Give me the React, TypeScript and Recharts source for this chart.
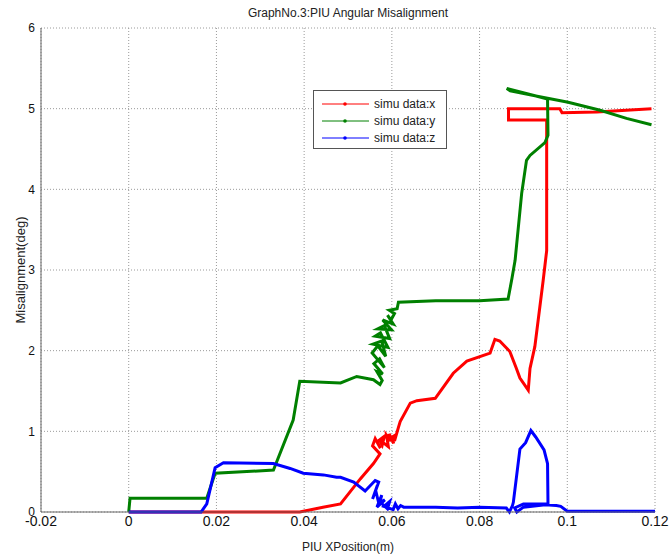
import { LineChart, Line, XAxis, YAxis, CartesianGrid } from 'recharts';

// [xPosition (m), misalignment (deg)], in drawing order
const simuX: [number, number][] = [
  [0, 0], [0.039, 0], [0.0443, 0.06], [0.0483, 0.1], [0.0528, 0.41], [0.0558, 0.6], [0.0573, 0.72],
  [0.0556, 0.82], [0.0562, 0.91], [0.0574, 0.79], [0.0566, 0.87], [0.0583, 0.94], [0.0578, 0.83],
  [0.0571, 0.9], [0.0592, 0.81], [0.0588, 0.95], [0.0598, 0.88], [0.0594, 0.97], [0.0604, 0.85],
  [0.0601, 0.93], [0.061, 0.96], [0.0606, 0.88], [0.0615, 1.05], [0.0619, 1.12],
  [0.0642, 1.35], [0.0657, 1.38], [0.0699, 1.41], [0.074, 1.72], [0.0771, 1.87], [0.0824, 1.97],
  [0.0835, 2.14], [0.0846, 2.12], [0.0869, 1.99], [0.0884, 1.78], [0.0892, 1.66], [0.0911, 1.51],
  [0.0915, 1.78], [0.0926, 2.05], [0.0945, 2.87], [0.0953, 3.24], [0.0953, 4.86], [0.0866, 4.86],
  [0.0866, 5.0], [0.0983, 5.0], [0.0988, 4.95], [0.1067, 4.96], [0.1192, 5.0],
];

const simuY: [number, number][] = [
  [0, 0], [0.0003, 0.17], [0.0178, 0.17], [0.0197, 0.48], [0.033, 0.52], [0.0375, 1.14], [0.039, 1.62],
  [0.0483, 1.6], [0.052, 1.68], [0.0558, 1.64], [0.0573, 1.58], [0.0578, 1.63], [0.0566, 1.74],
  [0.0579, 1.71], [0.0559, 1.84], [0.0572, 1.9], [0.0583, 1.79], [0.0555, 1.97], [0.0568, 2.06],
  [0.0586, 1.93], [0.0577, 2.12], [0.0557, 2.08], [0.0591, 2.04], [0.0574, 2.22], [0.0562, 2.18],
  [0.0595, 2.15], [0.0583, 2.31], [0.0568, 2.27], [0.0599, 2.26], [0.0579, 2.38], [0.0603, 2.33],
  [0.059, 2.44], [0.0598, 2.38], [0.0606, 2.46], [0.0594, 2.5], [0.0612, 2.52], [0.0615, 2.6],
  [0.07, 2.62], [0.08, 2.62], [0.0865, 2.64], [0.0874, 2.9], [0.0881, 3.12], [0.0896, 3.95],
  [0.0907, 4.36], [0.0915, 4.42], [0.0949, 4.58], [0.0956, 4.67], [0.0955, 5.12], [0.0862, 5.25],
  [0.087, 5.22], [0.0955, 5.13], [0.1002, 5.08], [0.1075, 4.98], [0.1135, 4.88], [0.1192, 4.8],
];

const simuZ: [number, number][] = [
  [0, 0], [0.0165, 0], [0.0178, 0.1], [0.0197, 0.55], [0.0216, 0.61], [0.033, 0.6], [0.0368, 0.54],
  [0.0398, 0.48], [0.0444, 0.46], [0.0474, 0.43], [0.0483, 0.43], [0.0513, 0.37], [0.0539, 0.26],
  [0.0562, 0.39], [0.057, 0.37], [0.0556, 0.16], [0.0563, 0.27], [0.0571, 0.09], [0.0577, 0.21],
  [0.0566, 0.06], [0.0584, 0.15], [0.0574, 0.12], [0.059, 0.04], [0.0595, 0.13], [0.0582, 0.07],
  [0.0603, 0.03], [0.0608, 0.1], [0.0614, 0.04], [0.062, 0.08], [0.0627, 0.06], [0.07, 0.06],
  [0.075, 0.05], [0.08, 0.06], [0.0861, 0.05], [0.0868, 0.0], [0.0875, 0.08], [0.0877, 0.12],
  [0.0892, 0.78], [0.0905, 0.86], [0.0917, 1.01], [0.0928, 0.93], [0.0947, 0.77], [0.0955, 0.6],
  [0.0956, 0.1], [0.09, 0.1], [0.088, 0.05], [0.0885, 0.0], [0.09, 0.06], [0.095, 0.09],
  [0.0975, 0.08], [0.0985, 0.07], [0.1, 0.01], [0.12, 0.01],
];

const xTicks = [-0.02, 0, 0.02, 0.04, 0.06, 0.08, 0.1, 0.12];
const yTicks = [0, 1, 2, 3, 4, 5, 6];

const SERIES = [
  { name: 'simu data:x', color: '#ff0000', points: simuX },
  { name: 'simu data:y', color: '#008000', points: simuY },
  { name: 'simu data:z', color: '#0000ff', points: simuZ },
];

const FONT = '"Liberation Sans Narrow", "Arial Narrow", "Liberation Sans", Arial, sans-serif';

const fmtX = (v: number) => (v === 0 ? '0' : String(Number(v.toFixed(2))));

const LegendBox = () => (
  <div
    style={{
      position: 'absolute',
      left: 313,
      top: 90,
      width: 134,
      height: 59,
      border: '1px solid #555',
      background: '#fff',
      fontFamily: FONT,
      fontSize: 12,
      color: '#222',
      padding: '4px 0 0 8px',
      boxSizing: 'border-box',
    }}
  >
    {SERIES.map((s) => (
      <div key={s.name} style={{ display: 'flex', alignItems: 'center', height: 17 }}>
        <svg width={48} height={8} style={{ marginRight: 4 }}>
          <line x1={0} y1={4} x2={47} y2={4} stroke={s.color} strokeWidth={1} />
          <circle cx={23} cy={4} r={1.8} fill={s.color} />
        </svg>
        <span>{s.name}</span>
      </div>
    ))}
  </div>
);

export default function App() {
  return (
    <div style={{ position: 'absolute', left: 0, top: 0, width: 670, height: 554, background: '#fff' }}>
      <div
        style={{
          position: 'absolute',
          left: 41,
          top: 5,
          width: 614,
          textAlign: 'center',
          fontFamily: FONT,
          fontSize: 12,
          lineHeight: '16px',
          color: '#222',
        }}
      >
        GraphNo.3:PIU Angular Misalignment
      </div>
      <LineChart width={670} height={554} margin={{ top: 28, right: 15, bottom: 0, left: 0 }}>
        <CartesianGrid stroke="#9a9a9a" strokeDasharray="1 2" />
        <XAxis
          type="number"
          dataKey="x"
          domain={[-0.02, 0.12]}
          ticks={xTicks}
          allowDataOverflow
          tickFormatter={fmtX}
          height={42}
          tickSize={0}
          tickMargin={4}
          axisLine={{ stroke: '#666' }}
          tick={{ fill: '#111', fontSize: 14, fontFamily: FONT }}
          label={{ value: 'PIU XPosition(m)', position: 'insideBottom', offset: 3, fill: '#222', fontSize: 12, fontFamily: FONT }}
        />
        <XAxis
          xAxisId="top"
          orientation="top"
          type="number"
          dataKey="x"
          domain={[-0.02, 0.12]}
          ticks={xTicks}
          height={0}
          tick={false}
          tickLine={false}
          axisLine={{ stroke: '#666' }}
        />
        <YAxis
          type="number"
          domain={[0, 6]}
          ticks={yTicks}
          width={41}
          tickSize={0}
          tickMargin={6}
          axisLine={{ stroke: '#666' }}
          tick={{ fill: '#111', fontSize: 12, fontFamily: FONT }}
          label={{ value: 'Misalignment(deg)', angle: -90, position: 'insideLeft', offset: 20, fill: '#222', fontSize: 13, fontFamily: FONT, style: { textAnchor: 'middle' } }}
        />
        <YAxis
          yAxisId="right"
          orientation="right"
          domain={[0, 6]}
          ticks={yTicks}
          width={0}
          tick={false}
          tickLine={false}
          axisLine={{ stroke: '#666' }}
        />
        {SERIES.map((s) => (
          <Line
            key={s.name}
            name={s.name}
            data={s.points.map(([x, y]) => ({ x, y }))}
            dataKey="y"
            type="linear"
            stroke={s.color}
            strokeWidth={3}
            dot={false}
            isAnimationActive={false}
          />
        ))}
      </LineChart>
      <LegendBox />
    </div>
  );
}
